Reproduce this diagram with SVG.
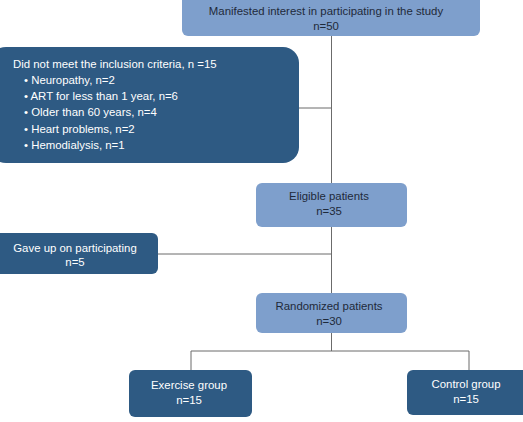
<svg xmlns="http://www.w3.org/2000/svg" width="523" height="422" viewBox="0 0 523 422">
<style>
.light{fill:#7e9fcc}
.dark{fill:#2e5a83}
text{font-family:"Liberation Sans",Arial,sans-serif;font-size:11.4px}
.tl{fill:#1e2a3a;text-anchor:middle}
.td{fill:#ffffff;text-anchor:middle}
.tdl{fill:#ffffff}
.conn{stroke:#6b6b6b;stroke-width:1;fill:none}
</style>
<rect width="523" height="422" fill="#ffffff"/>
<g id="connectors">
<path class="conn" d="M331.5 36 V183"/>
<path class="conn" d="M299 108 H331.5"/>
<path class="conn" d="M331.5 227 V293"/>
<path class="conn" d="M158 254 H331.5"/>
<path class="conn" d="M331.5 333 V351"/>
<path class="conn" d="M191 351 H469"/>
<path class="conn" d="M191 351 V370"/>
<path class="conn" d="M469 351 V370"/>
</g>
<g id="n_interest">
<rect class="light" x="182" y="-6" width="298" height="42" rx="6"/>
<text class="tl" x="326" y="15">Manifested interest in participating in the study</text>
<text class="tl" x="326" y="30">n=50</text>
</g>
<g id="n_excluded">
<rect class="dark" x="-10" y="47" width="309" height="116" rx="16"/>
<text class="tdl" x="13" y="68">Did not meet the inclusion criteria, n =15</text>
<text class="tdl" x="24" y="84">• Neuropathy, n=2</text>
<text class="tdl" x="24" y="100">• ART for less than 1 year, n=6</text>
<text class="tdl" x="24" y="116">• Older than 60 years, n=4</text>
<text class="tdl" x="24" y="133">• Heart problems, n=2</text>
<text class="tdl" x="24" y="149">• Hemodialysis, n=1</text>
</g>
<g id="n_eligible">
<rect class="light" x="256" y="183" width="151" height="44" rx="6"/>
<text class="tl" x="329" y="200">Eligible patients</text>
<text class="tl" x="329" y="215">n=35</text>
</g>
<g id="n_gaveup">
<rect class="dark" x="-6" y="233" width="164" height="41" rx="6"/>
<text class="td" x="75" y="252">Gave up on participating</text>
<text class="td" x="75" y="266">n=5</text>
</g>
<g id="n_randomized">
<rect class="light" x="256" y="293" width="151" height="40" rx="6"/>
<text class="tl" x="329" y="310">Randomized patients</text>
<text class="tl" x="329" y="325">n=30</text>
</g>
<g id="n_exercise">
<rect class="dark" x="129" y="370" width="123" height="47" rx="6"/>
<text class="td" x="189" y="389">Exercise group</text>
<text class="td" x="189" y="404">n=15</text>
</g>
<g id="n_control">
<rect class="dark" x="407" y="370" width="126" height="45" rx="6"/>
<text class="td" x="466" y="388">Control group</text>
<text class="td" x="466" y="403">n=15</text>
</g>
</svg>
